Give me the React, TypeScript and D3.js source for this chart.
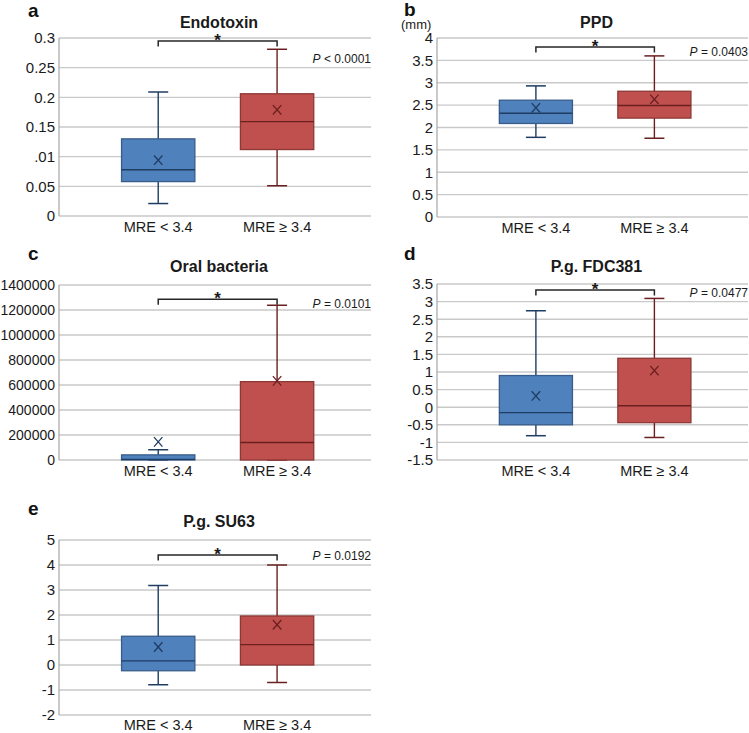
import { useEffect, useRef } from 'react'
import * as d3 from 'd3'

const CATEGORIES = ['MRE < 3.4', 'MRE ≥ 3.4']
const LETTERS = ['a', 'b', 'c', 'd', 'e']
const TITLES = ['Endotoxin', 'PPD', 'Oral bacteria', 'P.g. FDC381', 'P.g. SU63']
const P_TEXT = ['< 0.0001', '= 0.0403', '= 0.0101', '= 0.0477', '= 0.0192']

// per group: [min, q1, median, q3, max, mean]
const ENDOTOXIN = [
  [0.021, 0.058, 0.078, 0.13, 0.209, 0.094],
  [0.051, 0.112, 0.159, 0.206, 0.281, 0.179],
]
const PPD = [
  [1.78, 2.09, 2.32, 2.61, 2.93, 2.44],
  [1.76, 2.21, 2.49, 2.81, 3.6, 2.63],
]
const ORAL = [
  [0, 0, 5000, 41000, 82000, 145000],
  [0, 0, 140000, 627000, 1238000, 633000],
]
const FDC381 = [
  [-0.81, -0.5, -0.155, 0.9, 2.74, 0.32],
  [-0.86, -0.44, 0.04, 1.39, 3.09, 1.04],
]
const SU63 = [
  [-0.79, -0.23, 0.165, 1.15, 3.18, 0.72],
  [-0.7, 0, 0.815, 1.96, 4.0, 1.61],
]

const ENDOTOXIN_TICKS = [0, 0.05, 0.1, 0.15, 0.2, 0.25, 0.3]
const ENDOTOXIN_TICK_LABELS = ['0', '0.05', '.01', '0.15', '0.2', '0.25', '0.3']
const PPD_TICKS = [0, 0.5, 1, 1.5, 2, 2.5, 3, 3.5, 4]
const ORAL_TICKS = [0, 200000, 400000, 600000, 800000, 1000000, 1200000, 1400000]
const FDC381_TICKS = [-1.5, -1, -0.5, 0, 0.5, 1, 1.5, 2, 2.5, 3, 3.5]
const SU63_TICKS = [-2, -1, 0, 1, 2, 3, 4, 5]

// significance bracket and P label heights, in data units
const BRACKET_LEVEL = [0.295, 3.8, 1286000, 3.33, 4.4]
const P_LEVEL = [0.2646, 3.69, 1248000, 3.24, 4.36]

const FONT = '"Liberation Sans", Arial, sans-serif'
const GROUP_COLORS = [
  { fill: '#4f81bd', stroke: '#385d8a', dark: '#1f3c62' },
  { fill: '#c0504d', stroke: '#8c3836', dark: '#6b1f1f' },
]

export default function App() {
  const svgRef = useRef<SVGSVGElement>(null)

  useEffect(() => {
    if (!svgRef.current) return
    const svg = d3.select(svgRef.current)
    svg.selectAll('*').remove()

    const panels = [
      { data: ENDOTOXIN, ticks: ENDOTOXIN_TICKS, labels: ENDOTOXIN_TICK_LABELS, tickFont: 15, x0: 59, x1: 371, y0: 38, y1: 216, titleY: 27.5, letterX: 28, letterY: 17 },
      { data: PPD, ticks: PPD_TICKS, labels: null, tickFont: 15, x0: 437, x1: 748, y0: 38, y1: 217, titleY: 27.5, letterX: 404, letterY: 16 },
      { data: ORAL, ticks: ORAL_TICKS, labels: null, tickFont: 14, x0: 59, x1: 371, y0: 285, y1: 460, titleY: 271.5, letterX: 28, letterY: 260 },
      { data: FDC381, ticks: FDC381_TICKS, labels: null, tickFont: 15, x0: 437, x1: 748, y0: 284, y1: 460, titleY: 271.5, letterX: 404, letterY: 260 },
      { data: SU63, ticks: SU63_TICKS, labels: null, tickFont: 15, x0: 59, x1: 371, y0: 540, y1: 715, titleY: 527, letterX: 28, letterY: 515 },
    ]

    panels.forEach((p, i) => {
      const w = p.x1 - p.x0
      const y = d3.scaleLinear()
        .domain([p.ticks[0], p.ticks[p.ticks.length - 1]])
        .range([p.y1, p.y0])
      const x = d3.scalePoint<string>()
        .domain(CATEGORIES)
        .range([p.x0 + w * 0.318, p.x0 + w * 0.699])
      const boxW = w * 0.235
      const capW = 20

      // gridlines
      svg.append('g').selectAll('line').data(p.ticks).join('line')
        .attr('x1', p.x0).attr('x2', p.x1)
        .attr('y1', (d) => y(d)).attr('y2', (d) => y(d))
        .attr('stroke', '#c9c9c9').attr('stroke-width', 1.4)

      // left axis line
      svg.append('line')
        .attr('x1', p.x0).attr('x2', p.x0)
        .attr('y1', p.y0).attr('y2', p.y1)
        .attr('stroke', '#a6a6a6').attr('stroke-width', 1.2)

      // tick labels
      svg.append('g').selectAll('text').data(p.ticks).join('text')
        .attr('x', p.x0 - 4)
        .attr('y', (d) => y(d) + p.tickFont * 0.355)
        .attr('text-anchor', 'end')
        .attr('font-family', FONT).attr('font-size', p.tickFont)
        .attr('fill', '#1a1a1a')
        .text((d, k) => (p.labels ? p.labels[k] : String(d)))

      // category labels
      svg.append('g').selectAll('text').data(CATEGORIES).join('text')
        .attr('x', (d) => x(d)!)
        .attr('y', Math.min(p.y1 + 16, 730))
        .attr('text-anchor', 'middle')
        .attr('font-family', FONT).attr('font-size', 14.5)
        .attr('fill', '#1a1a1a')
        .text((d) => d)

      // boxes
      p.data.forEach((s, gi) => {
        const [mn, q1, med, q3, mx, mean] = s
        const cx = x(CATEGORIES[gi])!
        const c = GROUP_COLORS[gi]
        const g = svg.append('g')

        g.append('line')
          .attr('x1', cx).attr('x2', cx).attr('y1', y(mx)).attr('y2', y(mn))
          .attr('stroke', c.dark).attr('stroke-width', 1.4)
        g.selectAll('line.cap').data([mn, mx]).join('line')
          .attr('class', 'cap')
          .attr('x1', cx - capW / 2).attr('x2', cx + capW / 2)
          .attr('y1', (d) => y(d)).attr('y2', (d) => y(d))
          .attr('stroke', c.dark).attr('stroke-width', 1.5)

        g.append('rect')
          .attr('x', cx - boxW / 2).attr('width', boxW)
          .attr('y', y(q3)).attr('height', Math.max(1, y(q1) - y(q3)))
          .attr('fill', c.fill).attr('stroke', c.stroke).attr('stroke-width', 1.3)

        g.append('line')
          .attr('x1', cx - boxW / 2).attr('x2', cx + boxW / 2)
          .attr('y1', y(med)).attr('y2', y(med))
          .attr('stroke', c.dark).attr('stroke-width', 1.4)

        const my = y(mean)
        const r = 4.2
        g.append('path')
          .attr('d', `M${cx - r},${my - r - 0.5}L${cx + r},${my + r + 0.5}M${cx + r},${my - r - 0.5}L${cx - r},${my + r + 0.5}`)
          .attr('stroke', c.dark).attr('stroke-width', 1.3).attr('fill', 'none')
      })

      // significance bracket
      const by = y(BRACKET_LEVEL[i])
      const bx1 = x(CATEGORIES[0])!
      const bx2 = x(CATEGORIES[1])!
      svg.append('path')
        .attr('d', `M${bx1},${by + 5.5}V${by}H${bx2}V${by + 5.5}`)
        .attr('fill', 'none').attr('stroke', '#262626').attr('stroke-width', 1.5)
      svg.append('text')
        .attr('x', (bx1 + bx2) / 2).attr('y', by + 5)
        .attr('text-anchor', 'middle')
        .attr('font-family', FONT).attr('font-size', 17).attr('font-weight', 700)
        .attr('fill', '#1a1a1a')
        .text('*')

      // P value
      const pt = svg.append('text')
        .attr('x', p.x1).attr('y', y(P_LEVEL[i]) + 4.3)
        .attr('text-anchor', 'end')
        .attr('font-family', FONT).attr('font-size', 12)
        .attr('fill', '#1a1a1a')
      pt.append('tspan').attr('font-style', 'italic').text('P')
      pt.append('tspan').text(' ' + P_TEXT[i])

      // title
      svg.append('text')
        .attr('x', (p.x0 + p.x1) / 2 + 4).attr('y', p.titleY)
        .attr('text-anchor', 'middle')
        .attr('font-family', FONT).attr('font-size', 16).attr('font-weight', 700)
        .attr('fill', '#1a1a1a')
        .text(TITLES[i])

      // panel letter
      svg.append('text')
        .attr('x', p.letterX).attr('y', p.letterY)
        .attr('font-family', FONT).attr('font-size', 19).attr('font-weight', 700)
        .attr('fill', '#111')
        .text(LETTERS[i])
    })

    // unit for PPD
    svg.append('text')
      .attr('x', 401).attr('y', 28.5)
      .attr('font-family', FONT).attr('font-size', 13)
      .attr('fill', '#1a1a1a')
      .text('(mm)')
  }, [])

  return (
    <svg
      ref={svgRef}
      width={749}
      height={733}
      viewBox="0 0 749 733"
      style={{ position: 'absolute', left: 0, top: 0, background: '#fff' }}
    />
  )
}
